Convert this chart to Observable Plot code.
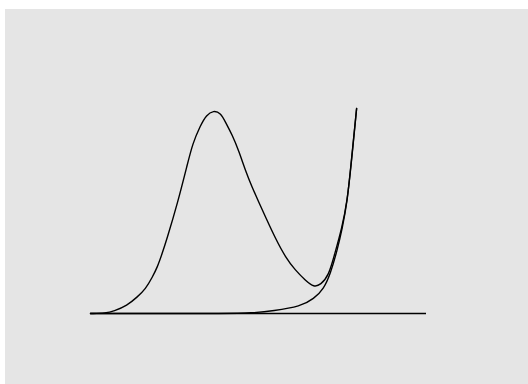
<!DOCTYPE html>
<html>
<head>
<meta charset="utf-8">
<script src="https://cdn.jsdelivr.net/npm/d3@7"></script>
<script src="https://cdn.jsdelivr.net/npm/@observablehq/plot@0.6"></script>
<style>
  html, body { margin: 0; padding: 0; background: #ffffff; }
  #chart { position: absolute; left: 5px; top: 9px; }
  #chart svg { background: #e5e5e5; display: block; }
</style>
</head>
<body>
<div id="chart"></div>
<script>
// Combined curve (bell + growth)
const totalX = [0, 4.5, 6.9, 10.9, 13.9, 16.4, 18.4, 19.9, 21.3, 22.6, 25.9, 28.9, 30.4, 32.7, 34.5, 36.6, 38.7, 40.2, 42.2, 44.1, 46.1, 48.1, 50.1, 52.1, 55.1, 58.0, 61.0, 64.0, 66.5, 68.5, 70.9, 72.6, 74.9, 76.4, 77.5, 79.2];
const totalY = [0, 0.2, 1.1, 3.9, 8.0, 12.0, 17.7, 22.6, 29.1, 35.6, 53.7, 73.2, 82.9, 91.7, 96.9, 99.0, 97.9, 93.3, 87.0, 79.5, 69.8, 61.6, 54.3, 47.0, 36.4, 27.5, 21.0, 16.1, 12.8, 14.0, 18.5, 28.6, 42.1, 55.1, 71.2, 100];
// Growth curve alone
const growthX = [0, 32.7, 47.6, 54.5, 62.5, 66.5, 69.4, 71.4, 73.4, 74.9, 76.4, 77.4, 79.2];
const growthY = [0, 0, 0, 1.3, 3.4, 7.2, 12.0, 19.4, 30.7, 41.3, 54.3, 70.7, 100];
// Baseline
const baselineY = [0];

const total = totalX.map((x, i) => ({x, y: totalY[i]}));
const growth = growthX.map((x, i) => ({x, y: growthY[i]}));

const chart = Plot.plot({
  width: 523,
  height: 375,
  marginLeft: 85,
  marginRight: 102,
  marginTop: 99,
  marginBottom: 71,
  x: {domain: [0, 100], axis: null},
  y: {domain: [0, 100], axis: null},
  style: {background: "#e5e5e5"},
  marks: [
    Plot.ruleY(baselineY, {stroke: "#000", strokeWidth: 1.3}),
    Plot.line(growth, {x: "x", y: "y", stroke: "#000", strokeWidth: 1.4, curve: "basis"}),
    Plot.line(total, {x: "x", y: "y", stroke: "#000", strokeWidth: 1.4, curve: "basis"})
  ]
});
document.getElementById("chart").appendChild(chart);
</script>
</body>
</html>
